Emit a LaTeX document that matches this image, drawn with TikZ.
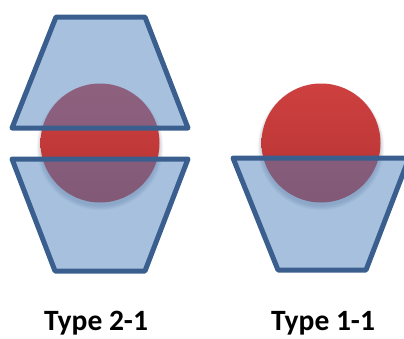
\documentclass[tikz,border=0pt]{standalone}
\usepackage{fontspec}
\setmainfont{Carlito}
\definecolor{edgeblue}{HTML}{3A5F8F}
\definecolor{fillblue}{HTML}{4F81BD}
\definecolor{redtop}{HTML}{CE4040}
\definecolor{redbot}{HTML}{B53332}
\definecolor{shadowc}{HTML}{2E3A55}
\tikzset{
  block/.style={fill=fillblue, fill opacity=0.5, draw=edgeblue, draw opacity=1,
                line width=5pt, line join=round},
  ball/.style={top color=redtop, bottom color=redbot, draw=none},
  caption/.style={font=\fontsize{29.5}{34}\selectfont\bfseries, anchor=base, inner sep=0pt}
}
\newcommand{\softshadow}[2]{%
  \foreach \k in {1,...,8}{
    \fill[shadowc, opacity=0.035] (#1,#2+4) circle ({58.5+0.6*\k});
  }}
\begin{document}
\begin{tikzpicture}[x=1pt,y=-1pt]
\useasboundingbox (0,0) rectangle (404,338);
% left pair: ball held between two blocks
\softshadow{100}{143}
\shade[ball] (100,143) circle (59.5);
\coordinate (ballL) at (100,143);
\filldraw[block] (56,17) -- (145,17) -- (188,128) -- (12,128) -- cycle;
\filldraw[block] (12,159) -- (188,159) -- (145,271) -- (55,271) -- cycle;
% right pair: ball resting in one block
\begin{scope}
\clip (0,0) rectangle (404,338);
\softshadow{321}{143}
\shade[ball] (321,143) circle (59.5);
\coordinate (ballR) at (321,143);
\filldraw[block] (233,158) -- (409,158) -- (366,270) -- (278,270) -- cycle;
\end{scope}
\node[caption] (capL) at (96,330.5) {Type 2-1};
\node[caption] (capR) at (323,330.5) {Type 1-1};
\end{tikzpicture}
\end{document}
